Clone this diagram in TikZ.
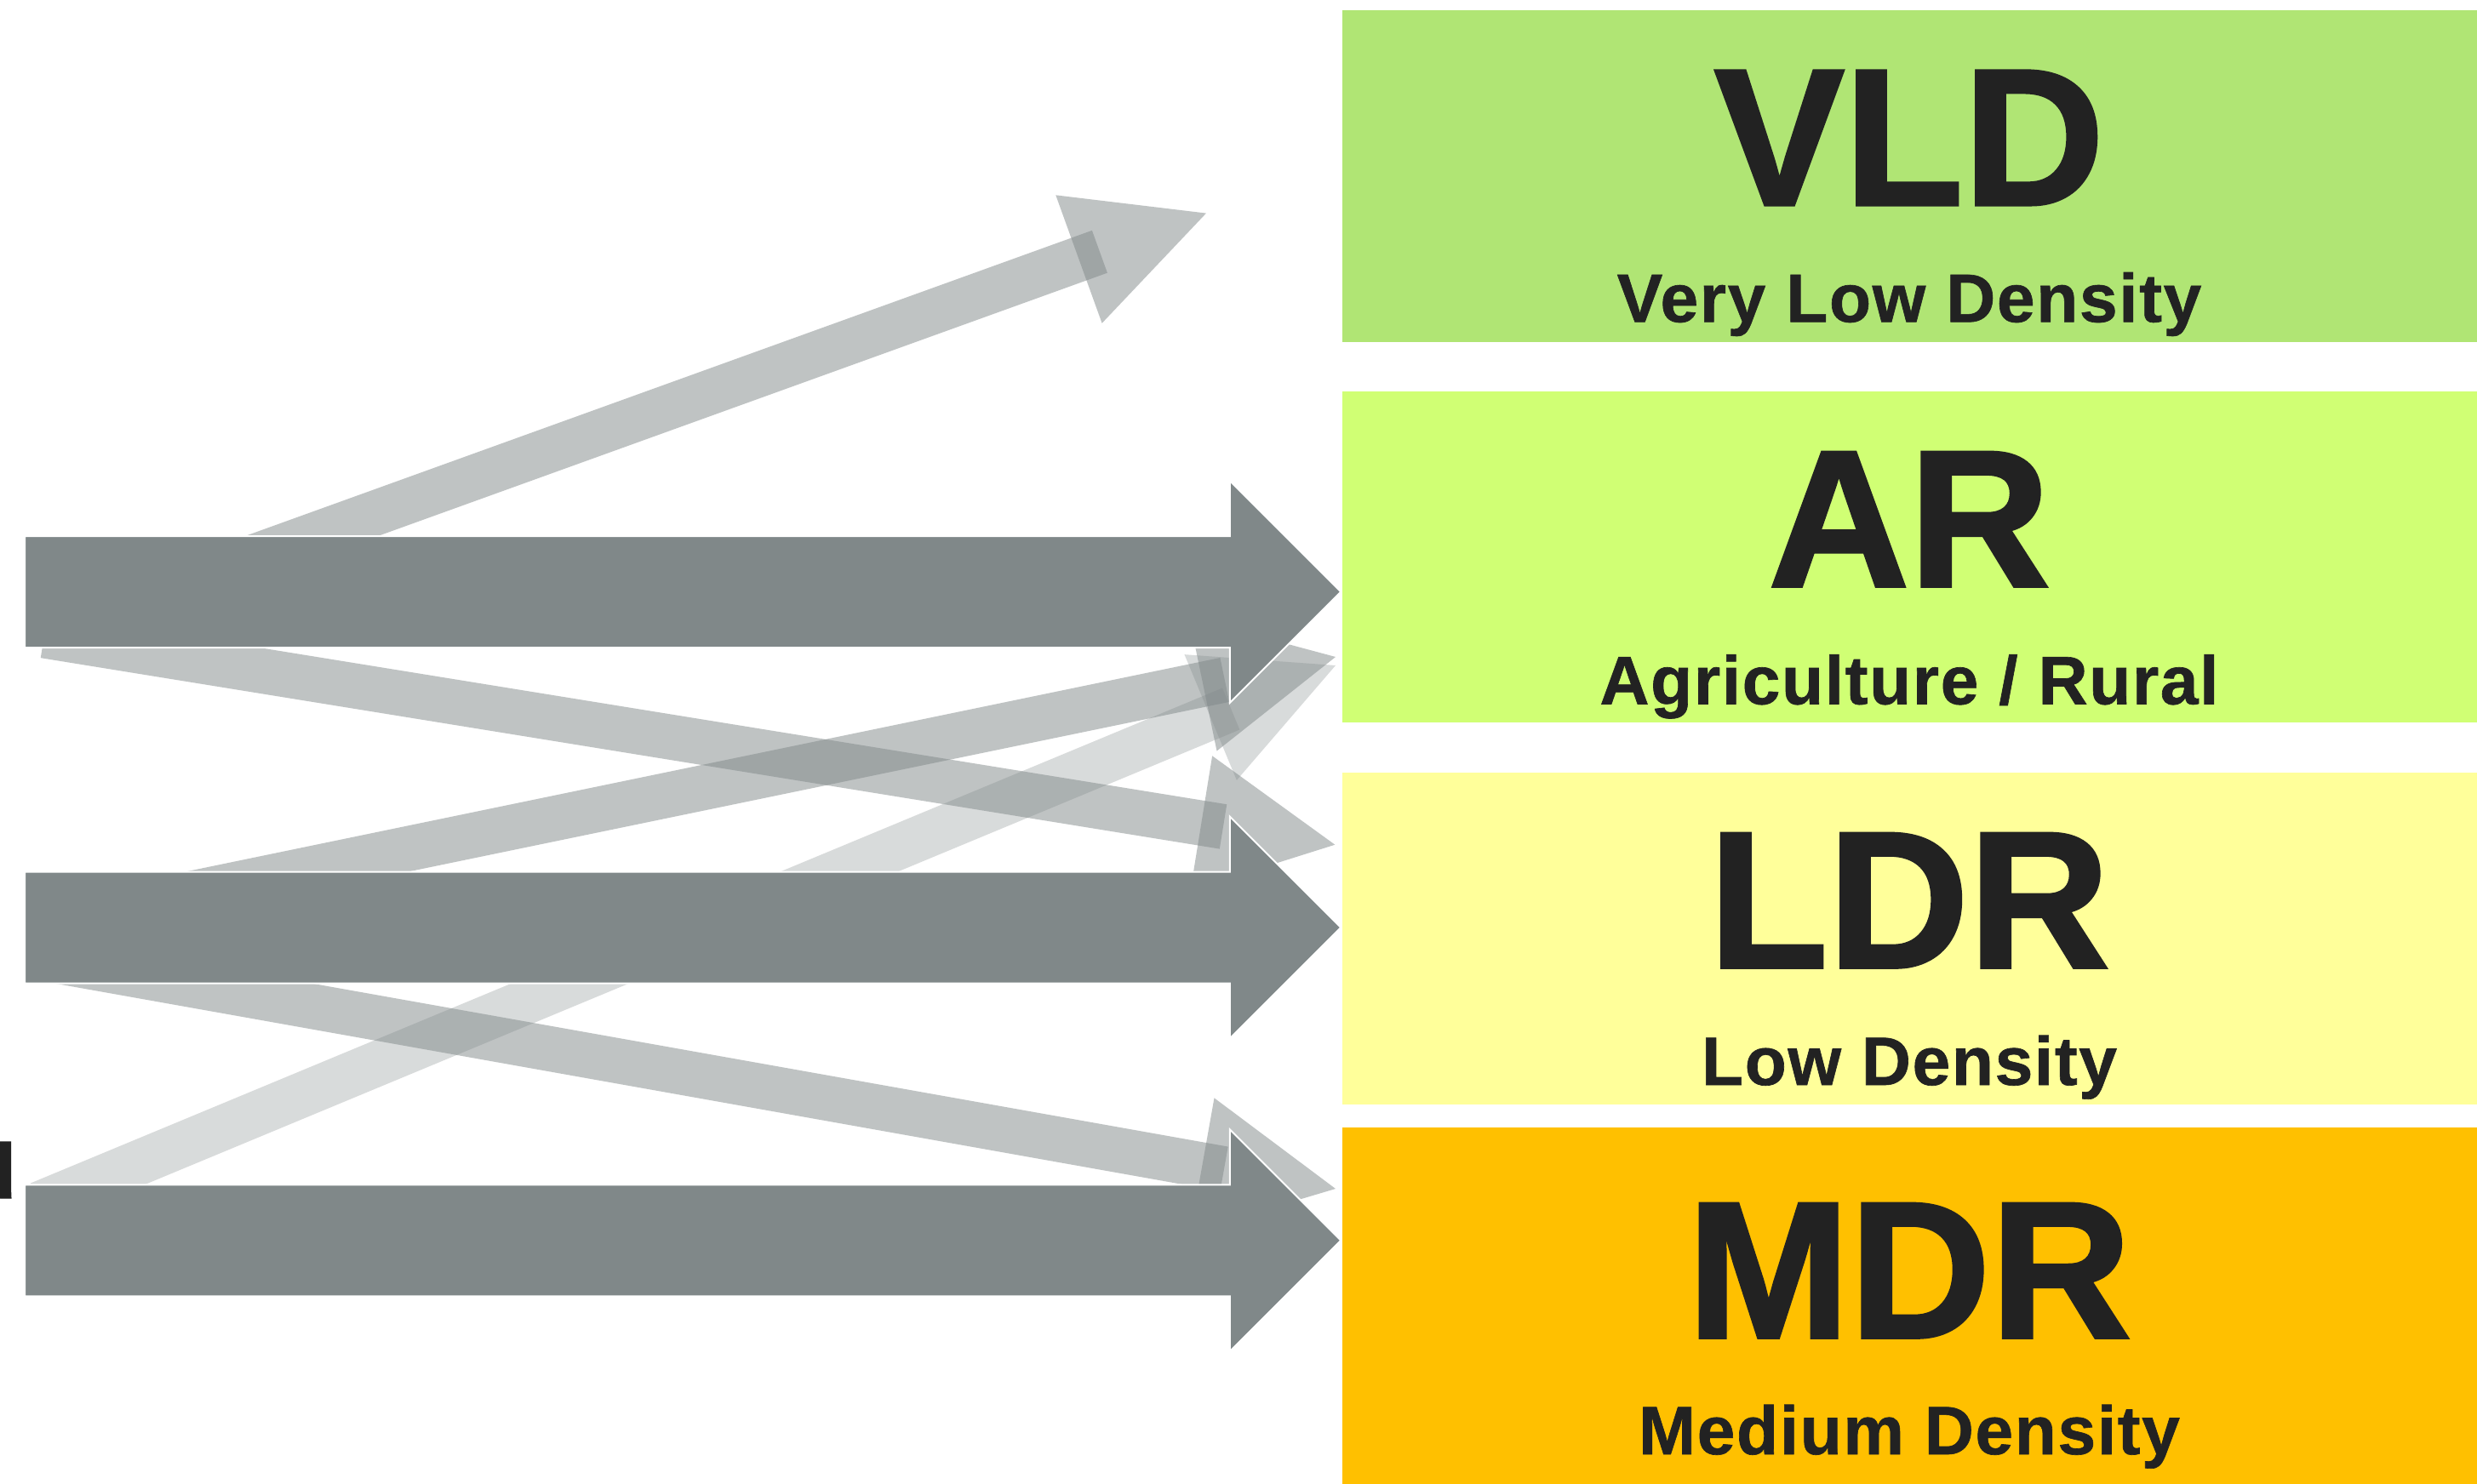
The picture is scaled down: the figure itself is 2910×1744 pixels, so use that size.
\documentclass[tikz,border=0pt]{standalone}
\usepackage{fontspec}
\setmainfont{Liberation Sans}
\newfontfamily\subfont[LetterSpace=2.0, FakeBold=0.8]{Liberation Sans Bold}
\newfontfamily\heavyfont[FakeBold=1.6]{Liberation Sans Bold}
\usetikzlibrary{calc}
\definecolor{arrowgray}{RGB}{128,136,137}
\definecolor{vldgreen}{RGB}{176,229,116}
\definecolor{argreen}{RGB}{208,255,116}
\definecolor{ldryellow}{RGB}{255,255,154}
\definecolor{mdrorange}{RGB}{255,192,0}
\definecolor{textdark}{RGB}{34,34,34}
\tikzset{
  zonebox/.style={draw=none, inner sep=0pt, outer sep=0pt, anchor=north west, minimum width=1340pt},
  bigcode/.style={inner sep=0pt, anchor=base, text=textdark, font=\fontsize{229}{235}\selectfont\heavyfont},
  subname/.style={inner sep=0pt, anchor=base, text=textdark, font=\fontsize{80.4}{90}\selectfont\subfont},
  bigarrowstyle/.style={fill=arrowgray, draw=white, line width=2pt},
}
% translucent arrow: name, opacity, start, tip
\newcommand\thinarrow[4]{%
  \coordinate (#1e) at ($(#4)!133pt!(#3)$);
  \coordinate (#1b) at ($(#4)!159pt!(#3)$);
  \draw[line width=53pt, draw=arrowgray, draw opacity=#2] (#3) -- (#1e);
  \fill[arrowgray, fill opacity=#2] ($(#1b)!80pt!90:(#4)$) -- (#4) -- ($(#1b)!80pt!-90:(#4)$) -- cycle;
}
% big block arrow: start, tip
\newcommand\bigarrow[2]{%
  \filldraw[bigarrowstyle]
    ($(#1)+(0,-65.5)$) -- ($(#2)+(-130.5,-65.5)$) -- ($(#2)+(-130.5,-130.5)$) -- (#2)
    -- ($(#2)+(-130.5,130.5)$) -- ($(#2)+(-130.5,65.5)$) -- ($(#1)+(0,65.5)$) -- cycle;
}
\begin{document}
\begin{tikzpicture}[x=1pt, y=-1pt]
\useasboundingbox (0,0) rectangle (2910,1744);
\fill[white] (0,0) rectangle (2910,1744);

% zone boxes
\node[zonebox, fill=vldgreen, minimum height=390pt] (vld) at (1577,11.7) {};
\node[zonebox, fill=argreen, minimum height=389pt] (ar) at (1577,460.3) {};
\node[zonebox, fill=ldryellow, minimum height=389.5pt] (ldr) at (1577,908.2) {};
\node[zonebox, fill=mdrorange, minimum height=430pt] (mdr) at (1577,1324.5) {};

% labels
\node[bigcode] (vldcode) at (2243,240.7) {VLD};
\node[subname] (vldname) at (2243,378.3) {Very Low Density};
\node[bigcode] (arcode) at (2243,689) {AR};
\node[subname] (arname) at (2243,827.5) {Agriculture / Rural};
\node[bigcode] (ldrcode) at (2243,1137) {LDR};
\node[subname] (ldrname) at (2243,1275) {Low Density};
\node[bigcode] (mdrcode) at (2243,1572) {MDR};
\node[subname] (mdrname) at (2243,1709) {Medium Density};

% clipped fragment of a label at the left edge
\node[inner sep=0pt, anchor=base east, text=textdark, font=\fontsize{91}{95}\selectfont\heavyfont] (frag) at (19,1408) {d};

% start and tip points
\coordinate (sA) at (100,726);   \coordinate (tA) at (1417,250.6);
\coordinate (sB) at (52,747);    \coordinate (tB) at (1568.3,992.7);
\coordinate (sC) at (56,1085);   \coordinate (tC) at (1569,772);
\coordinate (sD) at (46,1415);   \coordinate (tD) at (1569,782);
\coordinate (sE) at (60,1128);   \coordinate (tE) at (1569,1397);

% translucent arrows
\thinarrow{a}{0.5}{sA}{tA}
\thinarrow{b}{0.5}{sB}{tB}
\thinarrow{c}{0.5}{sC}{tC}
\thinarrow{d}{0.3}{sD}{tD}
\thinarrow{e}{0.5}{sE}{tE}

% main block arrows
\coordinate (s1) at (29,695.5);  \coordinate (t1) at (1575.3,695.5);
\coordinate (s2) at (29,1090);   \coordinate (t2) at (1575.3,1090);
\coordinate (s3) at (29,1457.8); \coordinate (t3) at (1575.3,1457.8);
\bigarrow{s1}{t1}
\bigarrow{s2}{t2}
\bigarrow{s3}{t3}
\end{tikzpicture}
\end{document}
